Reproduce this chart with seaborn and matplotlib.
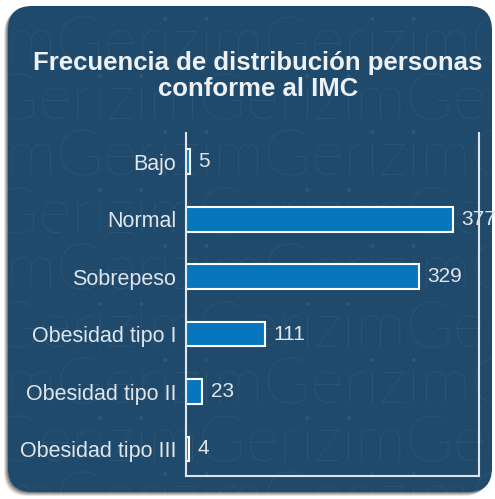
import matplotlib
matplotlib.use("Agg")
import matplotlib.pyplot as plt
import pandas as pd
import seaborn as sns
from matplotlib.patches import FancyBboxPatch

categorias = ["Bajo", "Normal", "Sobrepeso", "Obesidad tipo I",
              "Obesidad tipo II", "Obesidad tipo III"]
frecuencias = [5, 377, 329, 111, 23, 4]
titulo = "Frecuencia de distribución personas\nconforme al IMC"

df = pd.DataFrame({"categoria": categorias, "frecuencia": frecuencias})

sns.set_style("white")
plt.rcParams["font.family"] = ["Liberation Sans", "DejaVu Sans"]

fondo = "#1f4a6c"
barra = "#0777bd"
claro = "#dfe5ea"

fig = plt.figure(figsize=(4.95, 4.99), dpi=100)
fig.patch.set_facecolor("white")

# fondo en pixeles
bg = fig.add_axes([0, 0, 1, 1])
bg.set_xlim(0, 495)
bg.set_ylim(499, 0)
bg.axis("off")

# sombra
for i, a in enumerate([0.10, 0.14, 0.18, 0.22]):
    d = 4 - i
    bg.add_patch(FancyBboxPatch((8 - d, 6 + d), 484, 486,
                                boxstyle="round,pad=0,rounding_size=24",
                                facecolor="black", edgecolor="none", alpha=a))
panel = FancyBboxPatch((8, 6), 484, 486,
                       boxstyle="round,pad=0,rounding_size=24",
                       facecolor=fondo, edgecolor="none")
bg.add_patch(panel)

# marca de agua
offsets = [-150, -215, -150, -215, -150, -215, -150, -215, -150]
for k, off in enumerate(offsets):
    t = bg.text(off, 62 + k * 57, "Gerizim" * 5, fontsize=46,
                family=["Lato", "DejaVu Sans"], fontweight="light",
                color="white", alpha=0.07, ha="left", va="baseline")
    t.set_clip_path(panel)

bg.text(258, 76, titulo, ha="center", va="center", fontsize=18.5,
        fontweight="bold", color="#eef1f4", linespacing=1.15)

ax = fig.add_axes([0.3758, 0.0461, 0.592, 0.6874])
ax.set_facecolor("none")
sns.barplot(data=df, y="categoria", x="frecuencia", orient="h",
            color=barra, edgecolor="white", linewidth=1.5,
            width=0.43, saturation=1, ax=ax)
ax.bar_label(ax.containers[0], labels=[str(v) for v in frecuencias],
             padding=6, fontsize=15, color=claro, clip_on=False)
ax.set_xlim(0, 414)
ax.set_ylim(5.47, -0.5)
ax.set_xlabel("")
ax.set_ylabel("")
ax.set_xticks([])
ax.tick_params(axis="y", length=0, pad=7, labelsize=15.5, labelcolor=claro)
for s in ["left", "right", "bottom"]:
    ax.spines[s].set_visible(True)
    ax.spines[s].set_color(claro)
    ax.spines[s].set_linewidth(1.5)
ax.spines["top"].set_visible(False)

fig.savefig("out.png", dpi=100, facecolor="white")
